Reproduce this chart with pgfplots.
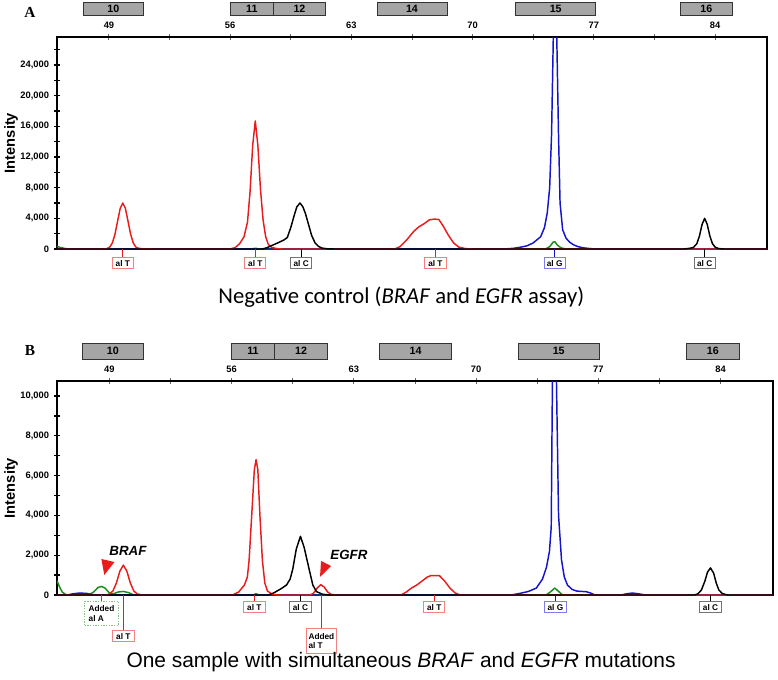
\documentclass[border=0pt]{standalone}
\usepackage{pgfplots}
\pgfplotsset{compat=1.18}
\usepackage{fontspec}
\setmainfont{Liberation Sans}
\newfontfamily\carlito{Carlito}
\newfontfamily\tnr{Liberation Serif}
\definecolor{myred}{RGB}{232,28,28}
\definecolor{myblue}{RGB}{20,20,205}
\definecolor{mygreen}{RGB}{25,140,25}
\definecolor{boxgray}{RGB}{165,165,165}
\pgfplotsset{
  chrom/.style={
    scale only axis, anchor=south west,
    xmin=46, xmax=87, ymin=0,
    clip mode=individual,
    axis line style={line width=1.4pt},
    xtick={49,56,63,70,77,84},
    minor xtick={52.5,59.5,66.5,73.5,80.5},
    xtick pos=right, xticklabel pos=right,
    ytick pos=left,
    tick align=center,
    major tick length=5pt, minor tick length=4pt,
    x tick style={black!60, line width=0.7pt},
    y tick style={black, line width=1pt},
    scaled y ticks=false,
    ticklabel style={font=\bfseries\fontsize{7}{8}\selectfont},
    /pgf/number format/1000 sep={,},
    /pgf/number format/assume math mode=true,
    ylabel={Intensity},
    ylabel style={font=\bfseries\fontsize{11}{13}\selectfont,
      at={(rel axis cs:0,0.5)}, anchor=center, yshift=34.5pt},
    every axis plot/.append style={line width=1.1pt, line join=round},
  },
}
\tikzset{
  lab/.style={draw=#1!55, fill=white, line width=0.7pt, text=black,
    font=\bfseries\fontsize{6.2}{7.2}\selectfont, inner sep=1.2pt,
    minimum width=16pt, minimum height=8.5pt, anchor=north},
  topbox/.style={fill=boxgray, draw=black!80, line width=0.7pt},
  topnum/.style={font=\bfseries\fontsize{8}{9}\selectfont},
}
\begin{document}
\begin{tikzpicture}
% ---------------- Panel A ----------------
\begin{axis}[chrom, at={(42.75pt,-186.75pt)}, width=532.5pt, height=159pt,
  ymax=27650, ytick={0,4000,8000,12000,16000,20000,24000},
  minor ytick={2000,6000,10000,14000,18000,22000,26000}]
% green
\addplot[mygreen] coordinates {(46,350)(46.2,200)(46.5,50)(46.8,0)(57.2,0)(57.45,100)(57.7,0)(74.2,0)(74.45,300)(74.65,900)(74.75,950)(74.9,500)(75.1,150)(75.4,0)(87,0)};
% blue
\addplot[myblue] coordinates {(46,0)(71.6,0)(72.0,30)(72.4,100)(72.8,250)(73.16,430)(73.5,800)(73.93,1600)(74.15,2800)(74.31,4700)(74.45,8000)(74.56,15000)(74.66,27650)(74.76,29500)(74.86,27650)(74.96,15000)(75.05,6000)(75.2,2500)(75.4,1400)(75.6,900)(75.85,520)(76.1,300)(76.4,150)(76.8,50)(77.2,0)(87,0)};
% red
\addplot[myred] coordinates {(46,0)(48.7,0)(48.9,66)(49.05,264)(49.2,810)(49.35,1950)(49.5,3642)(49.65,5292)(49.8,6000)(49.95,5292)(50.1,3642)(50.25,1950)(50.4,810)(50.55,264)(50.7,100)(50.9,30)(51.5,0)
(56.0,0)(56.3,200)(56.55,700)(56.8,1600)(57.0,3500)(57.15,7500)(57.3,13500)(57.45,16700)(57.6,13500)(57.75,7800)(57.9,3800)(58.05,1600)(58.2,600)(58.4,200)(58.7,50)(59,0)
(65.5,0)(65.8,300)(66.2,1200)(66.6,2300)(66.9,2900)(67.2,3300)(67.5,3800)(67.8,3900)(68.05,3850)(68.3,3000)(68.6,1800)(68.9,800)(69.2,250)(69.6,50)(70,0)(87,0)};
% black
\addplot[black] coordinates {(46,0)(57.85,0)(58.1,150)(58.45,500)(58.8,850)(59.1,1170)(59.3,1500)(59.5,2800)(59.7,4400)(59.85,5500)(60.03,6000)(60.2,5500)(60.35,4600)(60.5,3400)(60.7,1800)(60.9,800)(61.1,350)(61.3,120)(61.6,30)(62,0)
(82.2,0)(82.5,80)(82.75,200)(82.95,700)(83.1,1700)(83.25,3200)(83.4,4000)(83.55,3200)(83.7,1700)(83.85,700)(84.0,250)(84.2,60)(84.5,0)(87,0)};
% top amplicon boxes
\draw[topbox] (axis cs:47.5,30514) rectangle (axis cs:51.0,32209);
\draw[topbox] (axis cs:56.0,30514) rectangle (axis cs:58.5,32209);
\draw[topbox] (axis cs:58.5,30514) rectangle (axis cs:61.5,32209);
\draw[topbox] (axis cs:64.5,30514) rectangle (axis cs:68.55,32209);
\draw[topbox] (axis cs:72.5,30514) rectangle (axis cs:77.1,32209);
\draw[topbox] (axis cs:82.0,30514) rectangle (axis cs:85.0,32209);
\node[topnum] at (axis cs:49.25,31362) {10};
\node[topnum] at (axis cs:57.25,31362) {11};
\node[topnum] at (axis cs:60.0,31362) {12};
\node[topnum] at (axis cs:66.5,31362) {14};
\node[topnum] at (axis cs:74.8,31362) {15};
\node[topnum] at (axis cs:83.5,31362) {16};
% allele labels
\draw[myred, line width=0.8pt] (axis cs:49.8,0) -- (axis cs:49.8,-1043);
\node[lab=myred] at (axis cs:49.8,-1043) {al T};
\draw[myred, line width=0.8pt] (axis cs:57.45,0) -- (axis cs:57.45,-1043);
\node[lab=myred] at (axis cs:57.45,-1043) {al T};
\draw[black, line width=0.8pt] (axis cs:60.1,0) -- (axis cs:60.1,-1043);
\node[lab=black] at (axis cs:60.1,-1043) {al C};
\draw[myred, line width=0.8pt] (axis cs:67.85,0) -- (axis cs:67.85,-1043);
\node[lab=myred] at (axis cs:67.85,-1043) {al T};
\draw[myblue, line width=0.8pt] (axis cs:74.74,0) -- (axis cs:74.74,-1043);
\node[lab=myblue] at (axis cs:74.74,-1043) {al G};
\draw[black, line width=0.8pt] (axis cs:83.4,0) -- (axis cs:83.4,-1043);
\node[lab=black] at (axis cs:83.4,-1043) {al C};
\end{axis}
% ---------------- Panel B ----------------
\begin{axis}[chrom, at={(42.75pt,-446.25pt)}, width=537pt, height=160.5pt,
  ymax=10750, ytick={0,2000,4000,6000,8000,10000},
  minor ytick={1000,3000,5000,7000,9000}]
% green
\addplot[mygreen] coordinates {(46,720)(46.15,400)(46.3,150)(46.55,0)(47.8,0)(48.1,150)(48.35,380)(48.55,430)(48.75,350)(49.0,100)(49.2,50)(49.5,150)(49.8,180)(50.1,120)(50.4,0)(57.2,0)(57.4,60)(57.6,0)(74.0,0)(74.25,150)(74.5,350)(74.7,200)(74.95,0)(87,0)};
% blue
\addplot[myblue] coordinates {(46,0)(46.6,0)(46.9,60)(47.3,100)(47.7,80)(48.0,20)(48.3,0)(72.0,0)(72.5,80)(73.0,180)(73.45,350)(73.8,800)(74.03,1400)(74.2,2200)(74.3,3400)(74.37,10750)(74.48,13000)(74.6,10750)(74.72,4000)(74.89,1760)(75.05,900)(75.23,500)(75.5,280)(75.75,200)(76.0,180)(76.3,170)(76.55,100)(76.8,0)(78.3,0)(78.6,60)(78.95,100)(79.3,60)(79.7,0)(87,0)};
% red
\addplot[myred] coordinates {(46,0)(48.8,0)(49.0,50)(49.2,200)(49.4,600)(49.6,1200)(49.8,1500)(50.0,1200)(50.2,600)(50.4,200)(50.6,50)(50.9,0)
(56.05,0)(56.4,150)(56.73,500)(56.9,900)(57.0,1750)(57.15,4000)(57.3,6300)(57.4,6800)(57.5,6300)(57.62,4000)(57.76,1750)(57.9,600)(58.05,200)(58.3,50)(58.6,0)
(60.5,0)(60.7,100)(60.9,350)(61.1,520)(61.3,400)(61.5,150)(61.7,30)(62,0)
(65.7,0)(66.0,150)(66.3,350)(66.6,500)(66.9,700)(67.2,900)(67.4,970)(67.9,970)(68.2,700)(68.5,350)(68.8,100)(69.1,0)(87,0)};
% black
\addplot[black] coordinates {(46,0)(58.1,0)(58.4,100)(58.8,300)(59.14,500)(59.35,800)(59.5,1300)(59.7,2300)(59.94,2950)(60.15,2400)(60.45,1250)(60.65,500)(60.86,170)(61.2,40)(61.6,0)
(82.5,0)(82.7,60)(82.9,250)(83.1,700)(83.25,1150)(83.42,1360)(83.6,1100)(83.75,600)(83.9,250)(84.1,70)(84.4,0)(87,0)};
% top amplicon boxes
\draw[topbox] (axis cs:47.45,11854) rectangle (axis cs:50.95,12658);
\draw[topbox] (axis cs:56.0,11854) rectangle (axis cs:58.45,12658);
\draw[topbox] (axis cs:58.45,11854) rectangle (axis cs:61.5,12658);
\draw[topbox] (axis cs:64.46,11854) rectangle (axis cs:68.6,12658);
\draw[topbox] (axis cs:72.4,11854) rectangle (axis cs:77.06,12658);
\draw[topbox] (axis cs:82.05,11854) rectangle (axis cs:85.06,12658);
\node[topnum] at (axis cs:49.2,12256) {10};
\node[topnum] at (axis cs:57.22,12256) {11};
\node[topnum] at (axis cs:59.98,12256) {12};
\node[topnum] at (axis cs:66.53,12256) {14};
\node[topnum] at (axis cs:74.73,12256) {15};
\node[topnum] at (axis cs:83.55,12256) {16};
% annotations
\node[font=\bfseries\itshape\fontsize{10}{12}\selectfont] at (axis cs:50.06,2210) {BRAF};
\fill[myred] (axis cs:48.54,1809) -- (axis cs:49.29,1658) -- (axis cs:48.71,1005) -- cycle;
\node[font=\bfseries\itshape\fontsize{10}{12}\selectfont] at (axis cs:62.72,2034) {EGFR};
\fill[myred] (axis cs:61.12,1709) -- (axis cs:61.69,1457) -- (axis cs:61.06,905) -- cycle;
% allele labels
\draw[mygreen, line width=0.8pt] (axis cs:48.55,0) -- (axis cs:48.55,-301);
\node[lab=mygreen, dash pattern=on 1pt off 1pt, align=left, minimum width=25.5pt, minimum height=18pt] at (axis cs:48.55,-301) {Added\\al A};
\draw[myred, line width=0.8pt] (axis cs:49.8,0) -- (axis cs:49.8,-1758);
\node[lab=myred] at (axis cs:49.8,-1758) {al T};
\draw[myred, line width=0.8pt] (axis cs:57.3,0) -- (axis cs:57.3,-301);
\node[lab=myred] at (axis cs:57.3,-301) {al T};
\draw[black, line width=0.8pt] (axis cs:59.94,0) -- (axis cs:59.94,-301);
\node[lab=black] at (axis cs:59.94,-301) {al C};
\draw[myred, line width=0.8pt] (axis cs:61.14,0) -- (axis cs:61.14,-1658);
\node[lab=myred, align=left, minimum width=23pt, minimum height=19pt] at (axis cs:61.14,-1658) {Added\\al T};
\draw[myred, line width=0.8pt] (axis cs:67.6,0) -- (axis cs:67.6,-301);
\node[lab=myred] at (axis cs:67.6,-301) {al T};
\draw[myblue, line width=0.8pt] (axis cs:74.54,0) -- (axis cs:74.54,-301);
\node[lab=myblue] at (axis cs:74.54,-301) {al G};
\draw[black, line width=0.8pt] (axis cs:83.42,0) -- (axis cs:83.42,-301);
\node[lab=black] at (axis cs:83.42,-301) {al C};
\end{axis}
% titles and panel letters
\node[font=\tnr\bfseries\fontsize{11.5}{13}\selectfont] at (22.5pt,-9pt) {A};
\node[font=\tnr\bfseries\fontsize{11.5}{13}\selectfont] at (22.5pt,-262.5pt) {B};
\node[font=\carlito\fontsize{17}{20}\selectfont] at (301pt,-222.5pt) {Negative control (\textit{BRAF} and \textit{EGFR} assay)};
\node[font=\fontsize{15.7}{18}\selectfont] at (300.75pt,-496.5pt) {One sample with simultaneous \textit{BRAF} and \textit{EGFR} mutations};
\pgfresetboundingbox
\path[use as bounding box] (0,0) rectangle (583.5pt,-509.25pt);
\end{tikzpicture}
\end{document}
